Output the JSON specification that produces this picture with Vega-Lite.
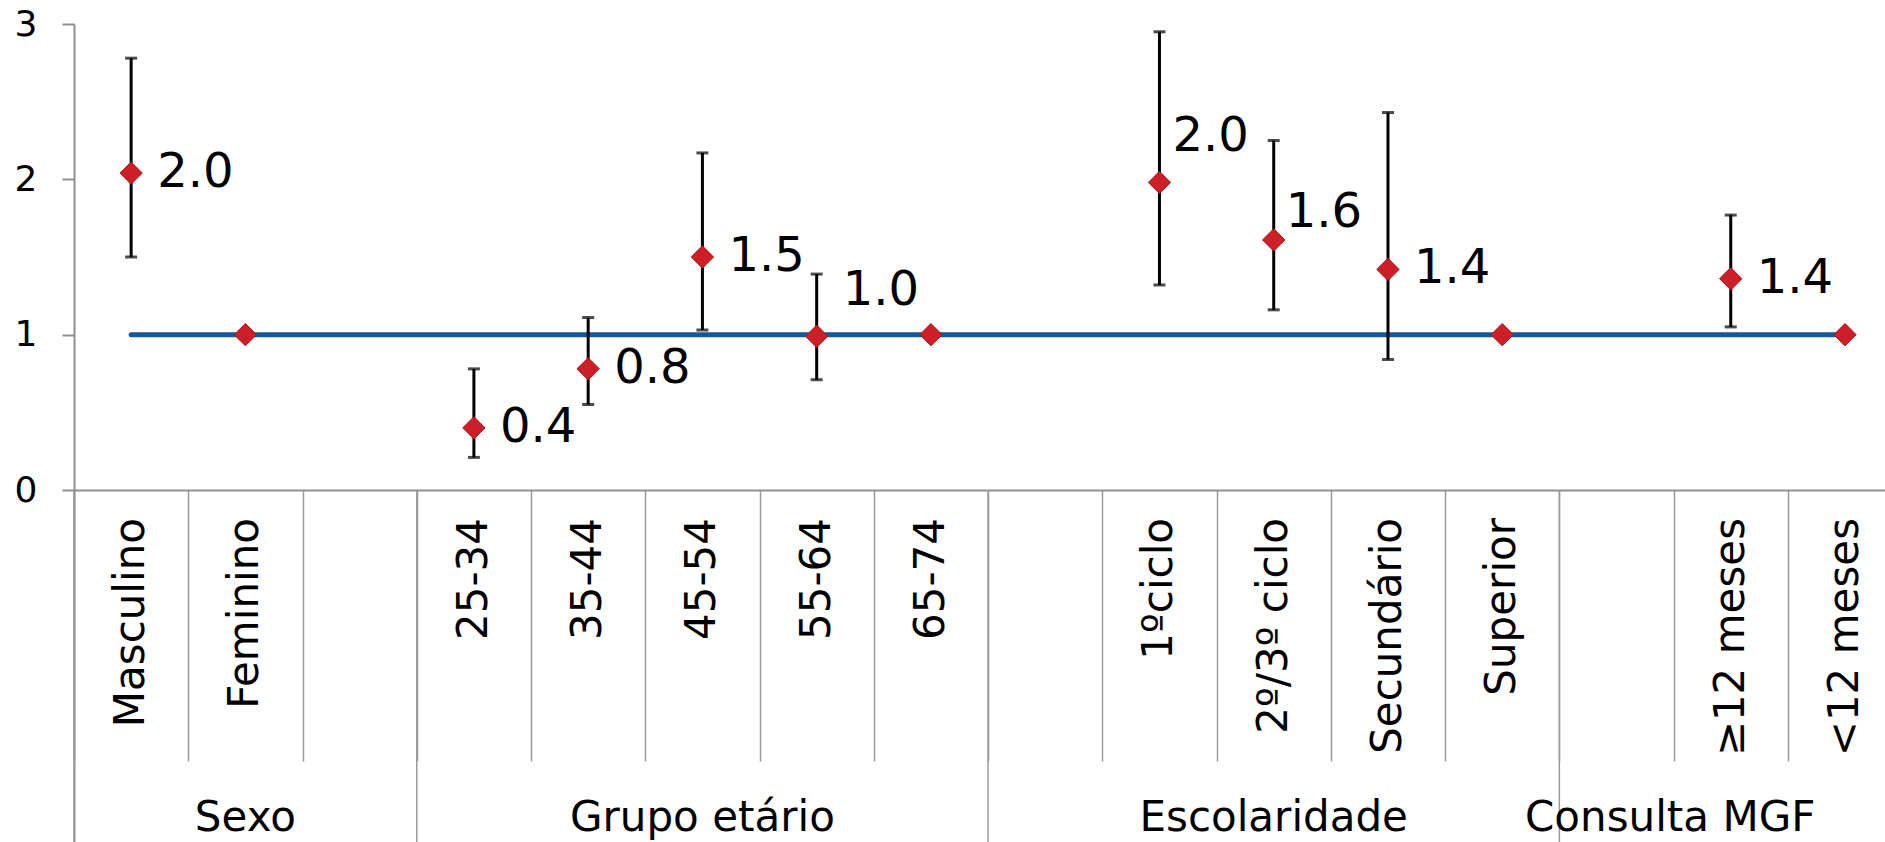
{
  "$schema": "https://vega.github.io/schema/vega-lite/v6.json",
  "autosize": {"type": "none"},
  "width": 1811,
  "height": 818,
  "padding": {"left": 74, "top": 24, "right": 0, "bottom": 0},
  "background": "white",
  "config": {
    "view": {"stroke": null},
    "font": "DejaVu Sans",
    "axisX": {"grid": false, "labels": false, "domainColor": "#8f8f8f", "domainWidth": 2, "tickColor": "#9a9a9a", "tickWidth": 1.5, "tickSize": 271, "offset": -352},
    "axisY": {"grid": false, "domainColor": "#8f8f8f", "domainWidth": 2, "tickColor": "#8f8f8f", "tickWidth": 2, "tickSize": 12, "labelFontSize": 36, "labelColor": "#000000", "labelPadding": 25, "labelFont": "DejaVu Sans"}
  },
  "datasets": {
    "pts": [
      {"category": "Masculino", "group": "Sexo", "slot": 0, "or": 2.04, "lo": 1.50, "hi": 2.78, "label": "2.0"},
      {"category": "Feminino", "group": "Sexo", "slot": 1, "or": 1.0, "lo": null, "hi": null, "label": null},
      {"category": "25-34", "group": "Grupo etário", "slot": 3, "or": 0.40, "lo": 0.21, "hi": 0.78, "label": "0.4"},
      {"category": "35-44", "group": "Grupo etário", "slot": 4, "or": 0.78, "lo": 0.55, "hi": 1.11, "label": "0.8"},
      {"category": "45-54", "group": "Grupo etário", "slot": 5, "or": 1.50, "lo": 1.03, "hi": 2.17, "label": "1.5"},
      {"category": "55-64", "group": "Grupo etário", "slot": 6, "or": 0.99, "lo": 0.71, "hi": 1.39, "label": "1.0"},
      {"category": "65-74", "group": "Grupo etário", "slot": 7, "or": 1.0, "lo": null, "hi": null, "label": null},
      {"category": "1ºciclo", "group": "Escolaridade", "slot": 9, "or": 1.98, "lo": 1.32, "hi": 2.95, "label": "2.0"},
      {"category": "2º/3º ciclo", "group": "Escolaridade", "slot": 10, "or": 1.61, "lo": 1.16, "hi": 2.25, "label": "1.6"},
      {"category": "Secundário", "group": "Escolaridade", "slot": 11, "or": 1.42, "lo": 0.84, "hi": 2.43, "label": "1.4"},
      {"category": "Superior", "group": "Escolaridade", "slot": 12, "or": 1.0, "lo": null, "hi": null, "label": null},
      {"category": "≥12 meses", "group": "Consulta MGF", "slot": 14, "or": 1.36, "lo": 1.05, "hi": 1.77, "label": "1.4"},
      {"category": "<12 meses", "group": "Consulta MGF", "slot": 15, "or": 1.0, "lo": null, "hi": null, "label": null}
    ],
    "groups": [
      {"group": "Sexo", "start": -0.5, "mid": 1},
      {"group": "Grupo etário", "start": 2.5, "mid": 5},
      {"group": "Escolaridade", "start": 7.5, "mid": 10},
      {"group": "Consulta MGF", "start": 12.5, "mid": 13.47}
    ]
  },
  "layer": [
    {
      "data": {"name": "groups"},
      "mark": {"type": "rule", "color": "#9a9a9a", "strokeWidth": 1.5},
      "encoding": {
        "x": {"field": "start", "type": "quantitative", "title": null, "scale": {"domain": [-0.5, 15.35], "nice": false, "zero": false}, "axis": {"values": [-0.5, 0.5, 1.5, 2.5, 3.5, 4.5, 5.5, 6.5, 7.5, 8.5, 9.5, 10.5, 11.5, 12.5, 13.5, 14.5], "labels": false, "tickSize": 271, "offset": -352, "title": null}},
        "y": {"datum": 0, "type": "quantitative", "title": null, "scale": {"domain": [-2.266, 3], "nice": false, "zero": false}, "axis": {"values": [0, 1, 2, 3], "format": "d", "title": null}},
        "y2": {"datum": -2.266}
      }
    },
    {
      "data": {"name": "groups"},
      "mark": {"type": "text", "fontSize": 42, "font": "DejaVu Sans", "color": "#000000", "align": "center", "baseline": "middle"},
      "encoding": {
        "x": {"field": "mid", "type": "quantitative", "title": null, "scale": {"domain": [-0.5, 15.35], "nice": false, "zero": false}},
        "y": {"datum": -2.112, "type": "quantitative", "title": null, "scale": {"domain": [-2.266, 3], "nice": false, "zero": false}},
        "text": {"field": "group"}
      }
    },
    {
      "data": {"name": "pts"},
      "mark": {"type": "text", "fontSize": 42, "font": "DejaVu Sans", "color": "#000000", "angle": 270, "align": "right", "baseline": "middle"},
      "encoding": {
        "x": {"field": "slot", "type": "quantitative", "title": null, "scale": {"domain": [-0.5, 15.35], "nice": false, "zero": false}},
        "y": {"datum": -0.18, "type": "quantitative", "title": null, "scale": {"domain": [-2.266, 3], "nice": false, "zero": false}},
        "text": {"field": "category"}
      }
    },
    {
      "data": {"name": "pts"},
      "mark": {"type": "line", "color": "#12599A", "strokeWidth": 5, "strokeCap": "round"},
      "encoding": {
        "x": {"field": "slot", "type": "quantitative", "title": null, "scale": {"domain": [-0.5, 15.35], "nice": false, "zero": false}},
        "y": {"datum": 1, "type": "quantitative", "title": null, "scale": {"domain": [-2.266, 3], "nice": false, "zero": false}}
      }
    },
    {
      "data": {"name": "pts"},
      "transform": [{"filter": "datum.lo != null"}],
      "mark": {"type": "rule", "color": "#000000", "strokeWidth": 3},
      "encoding": {
        "x": {"field": "slot", "type": "quantitative", "title": null, "scale": {"domain": [-0.5, 15.35], "nice": false, "zero": false}},
        "y": {"field": "lo", "type": "quantitative", "title": null, "scale": {"domain": [-2.266, 3], "nice": false, "zero": false}},
        "y2": {"field": "hi"}
      }
    },
    {
      "data": {"name": "pts"},
      "transform": [{"filter": "datum.lo != null"}],
      "mark": {"type": "tick", "orient": "horizontal", "color": "#000000", "size": 12, "thickness": 3},
      "encoding": {
        "x": {"field": "slot", "type": "quantitative", "title": null, "scale": {"domain": [-0.5, 15.35], "nice": false, "zero": false}},
        "y": {"field": "hi", "type": "quantitative", "title": null, "scale": {"domain": [-2.266, 3], "nice": false, "zero": false}}
      }
    },
    {
      "data": {"name": "pts"},
      "transform": [{"filter": "datum.lo != null"}],
      "mark": {"type": "tick", "orient": "horizontal", "color": "#000000", "size": 12, "thickness": 3},
      "encoding": {
        "x": {"field": "slot", "type": "quantitative", "title": null, "scale": {"domain": [-0.5, 15.35], "nice": false, "zero": false}},
        "y": {"field": "lo", "type": "quantitative", "title": null, "scale": {"domain": [-2.266, 3], "nice": false, "zero": false}}
      }
    },
    {
      "data": {"name": "pts"},
      "mark": {"type": "point", "shape": "diamond", "filled": true, "fill": "#CD1F27", "stroke": "#A3161C", "strokeWidth": 1, "size": 500, "opacity": 1},
      "encoding": {
        "x": {"field": "slot", "type": "quantitative", "title": null, "scale": {"domain": [-0.5, 15.35], "nice": false, "zero": false}},
        "y": {"field": "or", "type": "quantitative", "title": null, "scale": {"domain": [-2.266, 3], "nice": false, "zero": false}}
      }
    },
    {
      "data": {"name": "pts"},
      "transform": [{"filter": "datum.label != null && datum.category != '55-64' && datum.category != '1ºciclo' && datum.category != '2º/3º ciclo'"}],
      "mark": {"type": "text", "fontSize": 48, "font": "DejaVu Sans", "color": "#000000", "align": "left", "baseline": "middle", "dx": 26},
      "encoding": {
        "x": {"field": "slot", "type": "quantitative", "title": null, "scale": {"domain": [-0.5, 15.35], "nice": false, "zero": false}},
        "y": {"field": "or", "type": "quantitative", "title": null, "scale": {"domain": [-2.266, 3], "nice": false, "zero": false}},
        "text": {"field": "label"}
      }
    },
    {
      "data": {"name": "pts"},
      "transform": [{"filter": "datum.category == '55-64'"}],
      "mark": {"type": "text", "fontSize": 48, "font": "DejaVu Sans", "color": "#000000", "align": "left", "baseline": "middle", "dx": 26, "dy": -45},
      "encoding": {
        "x": {"field": "slot", "type": "quantitative", "title": null, "scale": {"domain": [-0.5, 15.35], "nice": false, "zero": false}},
        "y": {"field": "or", "type": "quantitative", "title": null, "scale": {"domain": [-2.266, 3], "nice": false, "zero": false}},
        "text": {"field": "label"}
      }
    },
    {
      "data": {"name": "pts"},
      "transform": [{"filter": "datum.category == '1ºciclo'"}],
      "mark": {"type": "text", "fontSize": 48, "font": "DejaVu Sans", "color": "#000000", "align": "left", "baseline": "middle", "dx": 13, "dy": -45},
      "encoding": {
        "x": {"field": "slot", "type": "quantitative", "title": null, "scale": {"domain": [-0.5, 15.35], "nice": false, "zero": false}},
        "y": {"field": "or", "type": "quantitative", "title": null, "scale": {"domain": [-2.266, 3], "nice": false, "zero": false}},
        "text": {"field": "label"}
      }
    },
    {
      "data": {"name": "pts"},
      "transform": [{"filter": "datum.category == '2º/3º ciclo'"}],
      "mark": {"type": "text", "fontSize": 48, "font": "DejaVu Sans", "color": "#000000", "align": "left", "baseline": "middle", "dx": 12, "dy": -27},
      "encoding": {
        "x": {"field": "slot", "type": "quantitative", "title": null, "scale": {"domain": [-0.5, 15.35], "nice": false, "zero": false}},
        "y": {"field": "or", "type": "quantitative", "title": null, "scale": {"domain": [-2.266, 3], "nice": false, "zero": false}},
        "text": {"field": "label"}
      }
    }
  ]
}
